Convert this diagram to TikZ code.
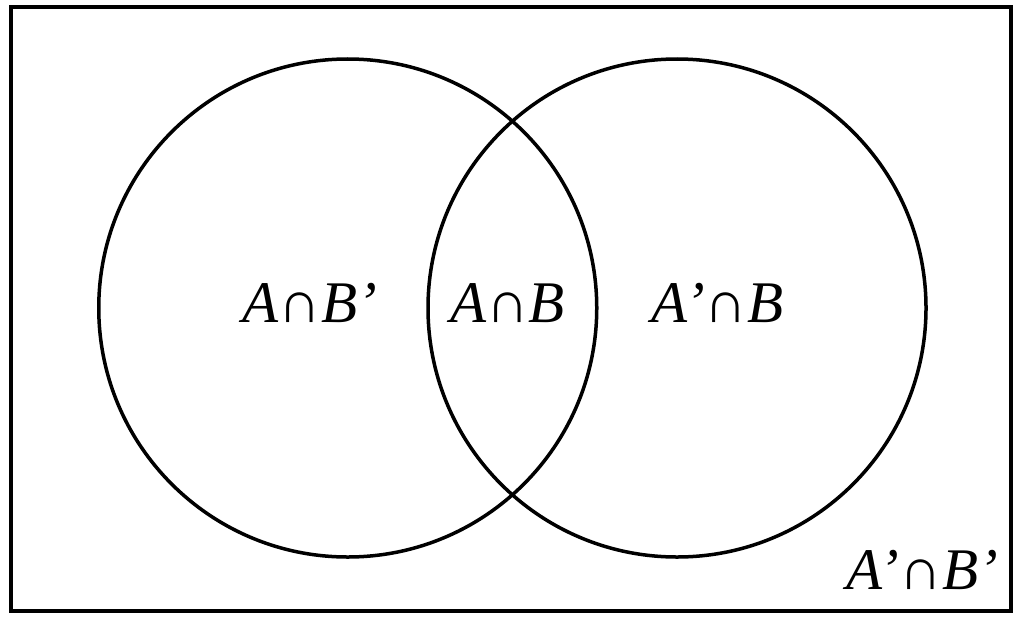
\documentclass[tikz,border=0pt]{standalone}
\usepackage{fontspec}
\setmainfont{Liberation Serif}
\usetikzlibrary{positioning}

\begin{document}
\begin{tikzpicture}[x=1pt,y=-1pt]
\fontsize{59}{59}\selectfont
\tikzstyle{set}=[circle, draw=black, line width=3.5pt, minimum size = 498pt, inner sep=0pt]
\tikzstyle{region}=[inner sep=0pt, anchor=base]
\useasboundingbox (0,0) rectangle (1024,618);
\node[draw=black, line width=4pt, minimum width=1000pt, minimum height=603.5pt, inner sep=0pt] (U) at (511,308.75) {};
\node[set] (A) at (347.75,308) {};
\node[set] (B) at (677,308) {};
\node[region] (AnotB) at (310,322) {\textit{A}∩\textit{B’}};
\node[region] (AB) at (507.5,322) {\textit{A}∩\textit{B}};
\node[region] (BnotA) at (717.5,322) {\textit{A’}∩\textit{B}};
\node[region] (none) at (922,589) {\textit{A’}∩\textit{B’}};
\end{tikzpicture}
\end{document}
